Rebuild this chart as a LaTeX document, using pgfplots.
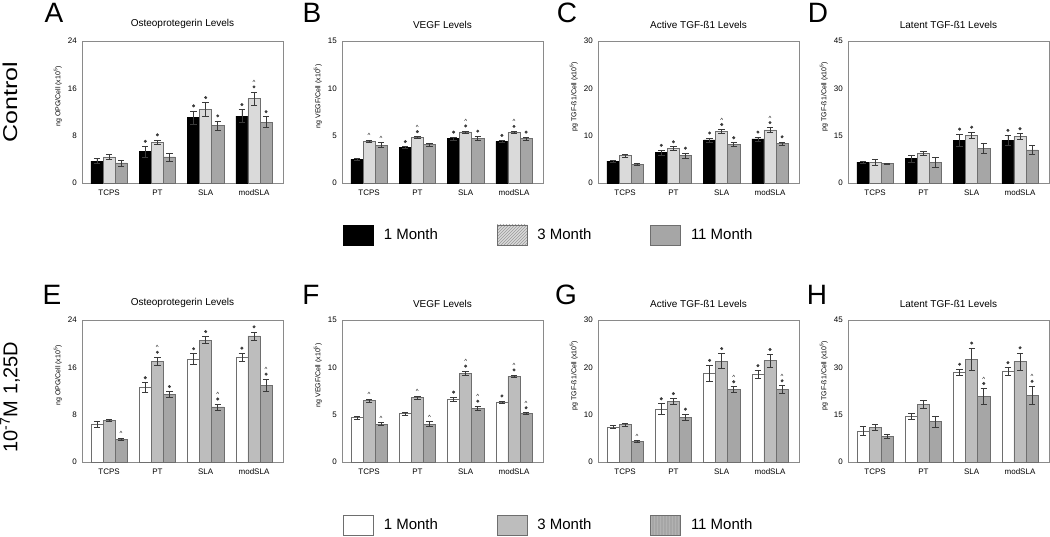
\documentclass[border=0pt]{standalone}
\usepackage{pgfplots}
\pgfplotsset{compat=1.18}
\usepackage{pgfplotstable}
\usepackage{fontspec}
\setmainfont{Liberation Sans}
\usetikzlibrary{patterns}

\definecolor{axgray}{HTML}{8A8A8A}
\definecolor{errc}{HTML}{3A3A3A}
\definecolor{tlight}{HTML}{DADADA}
\definecolor{tgray}{HTML}{A6A6A6}
\definecolor{blight}{HTML}{BDBDBD}
\definecolor{bgray}{HTML}{A6A6A6}
\definecolor{edgec}{HTML}{6E6E6E}

% columns: x, 1 Month (a, ea), 3 Month (b, eb), 11 Month (c, ec)
\pgfplotstableread{
x a ea b eb c ec
0 3.7 0.4 4.4 0.4 3.4 0.5
1 5.3 0.9 6.9 0.4 4.4 0.7
2 11.1 1.1 12.4 1.2 9.7 0.8
3 11.3 1.1 14.3 1.1 10.3 0.9
}\tA
\pgfplotstableread{
x a ea b eb c ec
0 2.5 0.1 4.4 0.1 4.0 0.25
1 3.75 0.1 4.8 0.1 4.05 0.15
2 4.7 0.15 5.4 0.1 4.75 0.2
3 4.4 0.1 5.35 0.1 4.7 0.15
}\tB
\pgfplotstableread{
x a ea b eb c ec
0 4.6 0.15 5.8 0.3 3.9 0.2
1 6.4 0.5 7.3 0.35 5.8 0.5
2 9.1 0.4 10.9 0.4 8.1 0.4
3 9.3 0.4 11.2 0.5 8.3 0.4
}\tC
\pgfplotstableread{
x a ea b eb c ec
0 6.6 0.3 6.6 0.9 6.1 0.3
1 7.7 1.0 9.3 0.6 6.6 1.5
2 13.5 2.0 15.1 1.0 11.0 1.6
3 13.5 1.6 14.8 0.8 10.5 1.3
}\tD
\pgfplotstableread{
x a ea b eb c ec
0 6.3 0.5 7.0 0.2 3.8 0.2
1 12.6 0.8 17.0 0.7 11.4 0.5
2 17.4 0.9 20.6 0.6 9.3 0.5
3 17.7 0.7 21.3 0.7 13.0 1.0
}\tE
\pgfplotstableread{
x a ea b eb c ec
0 4.7 0.15 6.5 0.15 4.0 0.15
1 5.1 0.15 6.8 0.15 4.0 0.25
2 6.65 0.2 9.4 0.2 5.7 0.2
3 6.3 0.15 9.05 0.15 5.1 0.1
}\tF
\pgfplotstableread{
x a ea b eb c ec
0 7.4 0.3 7.9 0.3 4.35 0.2
1 11.2 1.1 12.8 0.6 9.5 0.6
2 18.7 1.7 21.3 1.6 15.3 0.6
3 18.5 0.8 21.4 1.3 15.3 0.8
}\tG
\pgfplotstableread{
x a ea b eb c ec
0 9.9 1.4 10.9 1.0 8.2 0.6
1 14.5 1.0 18.2 1.2 12.8 1.8
2 28.4 1.0 32.6 3.5 20.8 2.5
3 28.7 1.2 31.9 2.7 21.2 2.8
}\tH

\tikzset{letter/.style={font=\fontsize{28}{28}\selectfont, inner sep=0pt}}
\newcommand{\crt}{{\fontsize{6}{6}\selectfont\textasciicircum}}

\pgfplotsset{
  panel/.style={
    scale only axis, width=201pt, height=142pt,
    xmin=-0.56, xmax=3.60, ymin=0,
    xtick={0,1,2,3}, xticklabels={TCPS,PT,SLA,modSLA},
    axis line style={draw=axgray, line width=0.7pt},
    major tick length=0pt, tick style={draw=none},
    ticklabel style={font=\fontsize{8}{9}\selectfont},
    /pgf/number format/assume math mode=true,
    xticklabel style={inner sep=0pt, anchor=north, yshift=-7pt},
    yticklabel style={inner sep=0pt, anchor=east, xshift=-5pt},
    title style={font=\fontsize{10}{12}\selectfont, inner sep=0pt, yshift=6pt},
    ylabel style={font=\fontsize{7}{8}\selectfont, at={(axis description cs:-0.12,0.61)}, anchor=center, inner sep=0pt},
    clip=false,
  },
  barbase/.style={ybar, bar width=0.25, bar shift=0pt, line width=0.5pt, forget plot,
    error bars/y dir=both, error bars/y explicit,
    error bars/error bar style={draw=errc, line width=0.6pt},
    error bars/error mark options={rotate=90, draw=errc, mark size=3.2pt, line width=0.6pt}},
  t1/.style={barbase, fill=black, draw=black},
  t2/.style={barbase, fill=tlight, draw=edgec},
  t3/.style={barbase, fill=tgray, draw=edgec},
  b1/.style={barbase, fill=white, draw=edgec},
  b2/.style={barbase, fill=blight, draw=edgec},
  b3/.style={barbase, fill=bgray, draw=edgec},
  stars/.style={only marks, forget plot, mark=*, mark size=1.3pt, color=errc, mark options={yshift=5pt}},
  caretS/.style={only marks, forget plot, mark=text, text mark={\crt}, color=errc, mark options={yshift=9.5pt}},
  caretA/.style={only marks, forget plot, mark=text, text mark={\crt}, color=errc, mark options={yshift=4.5pt}},
  leg/.style={
    legend style={draw=none, fill=none, inner sep=0pt, legend columns=3,
      font=\fontsize{15}{16}\selectfont, column sep=0pt, cells={anchor=west},
      nodes={inner xsep=0pt}},
    legend image code/.code={\draw[##1, line width=0.6pt] (0pt,-10pt) rectangle (30pt,10pt);},
  },
}

\newcommand{\threebars}[4]{%
  \addplot[#2] table[x expr=\thisrow{x}-0.25, y=a, y error=ea] {#1};
  \addplot[#3] table[x expr=\thisrow{x}, y=b, y error=eb] {#1};
  \addplot[#4] table[x expr=\thisrow{x}+0.25, y=c, y error=ec] {#1};
}

\begin{document}
\begin{tikzpicture}
\useasboundingbox (0,0) rectangle (1050pt,536pt);

% ---------------- Row 1 ----------------
\begin{axis}[panel, at={(82pt,353pt)}, anchor=south west, ymax=24, ytick={0,8,16,24},
  title={Osteoprotegerin Levels}, ylabel={ng OPG/Cell (x10\textsuperscript{5})}]
  \threebars{\tA}{t1}{t2}{t3}
  \addplot[stars] coordinates {(0.75,6.2) (1,7.3) (1.75,12.2) (2,13.6) (2.25,10.5) (2.75,12.4) (3,15.4) (3.25,11.2)};
  \addplot[caretS] coordinates {(3,15.4)};
  \node[letter] at (axis description cs:-0.139,1.197) {A};
  \node[rotate=90, font=\fontsize{20}{20}\selectfont] at (axis description cs:-0.358,0.570) {\scalebox{1.25}[1]{Control}};
\end{axis}

\begin{axis}[panel, leg, at={(342pt,353pt)}, anchor=south west, ymax=15, ytick={0,5,10,15},
  title={VEGF Levels}, ylabel={ng VEGF/Cell (x10\textsuperscript{5})},
  legend style={at={(axis description cs:0.005,-0.366)}, anchor=west}]
  \threebars{\tB}{t1}{t2}{t3}
  \addplot[stars] coordinates {(0.75,3.85) (1,4.9) (1.75,4.85) (2,5.5) (2.25,4.95) (2.75,4.5) (3,5.45) (3.25,4.85)};
  \addplot[caretS] coordinates {(1,4.9) (2,5.5) (3,5.45)};
  \addplot[caretA] coordinates {(0,4.5) (0.25,4.25)};
  \node[letter] at (axis description cs:-0.149,1.197) {B};
  \addlegendimage{fill=black, draw=black}
  \addlegendentry{\makebox[123pt][l]{\hspace{10pt}1 Month}}
  \addlegendimage{fill=tlight, draw=edgec, postaction={pattern=north east lines, pattern color=gray!80}}
  \addlegendentry{\makebox[123pt][l]{\hspace{10pt}3 Month}}
  \addlegendimage{fill=tgray, draw=edgec}
  \addlegendentry{\makebox[80pt][l]{\hspace{10pt}11 Month}}
\end{axis}

\begin{axis}[panel, at={(598pt,353pt)}, anchor=south west, ymax=30, ytick={0,10,20,30},
  title={Active TGF-ß1 Levels}, ylabel={pg TGF-ß1/Cell (x10\textsuperscript{5})}]
  \threebars{\tC}{t1}{t2}{t3}
  \addplot[stars] coordinates {(0.75,6.9) (1,7.65) (1.25,6.3) (1.75,9.5) (2,11.3) (2.25,8.5) (2.75,9.7) (3,11.7) (3.25,8.7)};
  \addplot[caretS] coordinates {(2,11.3) (3,11.7)};
  \node[letter] at (axis description cs:-0.154,1.197) {C};
\end{axis}

\begin{axis}[panel, at={(848pt,353pt)}, anchor=south west, ymax=45, ytick={0,15,30,45},
  title={Latent TGF-ß1 Levels}, ylabel={pg TGF-ß1/Cell (x10\textsuperscript{5})}]
  \threebars{\tD}{t1}{t2}{t3}
  \addplot[stars] coordinates {(1.75,15.5) (2,16.1) (2.75,15.1) (3,15.6)};
  \node[letter] at (axis description cs:-0.149,1.197) {D};
\end{axis}

% ---------------- Row 2 ----------------
\begin{axis}[panel, at={(82pt,74pt)}, anchor=south west, ymax=24, ytick={0,8,16,24},
  title={Osteoprotegerin Levels}, ylabel={ng OPG/Cell (x10\textsuperscript{5})}]
  \threebars{\tE}{b1}{b2}{b3}
  \addplot[stars] coordinates {(0.75,13.4) (1,17.7) (1.25,11.9) (1.75,18.3) (2,21.2) (2.25,9.8) (2.75,18.4) (3,22.0) (3.25,14.0)};
  \addplot[caretS] coordinates {(1,17.7) (2.25,9.8) (3.25,14.0)};
  \addplot[caretA] coordinates {(0.25,4.0)};
  \node[letter] at (axis description cs:-0.149,1.176) {E};
  \node[rotate=90, font=\fontsize{20}{20}\selectfont] at (axis description cs:-0.358,0.458) {10\textsuperscript{-7}M 1,25D};
\end{axis}

\begin{axis}[panel, leg, at={(342pt,74pt)}, anchor=south west, ymax=15, ytick={0,5,10,15},
  title={VEGF Levels}, ylabel={ng VEGF/Cell (x10\textsuperscript{5})},
  legend style={at={(axis description cs:0.005,-0.444)}, anchor=west}]
  \threebars{\tF}{b1}{b2}{b3}
  \addplot[stars] coordinates {(1.75,6.85) (2,9.6) (2.25,5.9) (2.75,6.45) (3,9.2) (3.25,5.2)};
  \addplot[caretS] coordinates {(2,9.6) (2.25,5.9) (3,9.2) (3.25,5.2)};
  \addplot[caretA] coordinates {(0,6.65) (0.25,4.15) (1,6.95) (1.25,4.25)};
  \node[letter] at (axis description cs:-0.154,1.176) {F};
  \addlegendimage{fill=white, draw=edgec}
  \addlegendentry{\makebox[123pt][l]{\hspace{10pt}1 Month}}
  \addlegendimage{fill=blight, draw=edgec}
  \addlegendentry{\makebox[123pt][l]{\hspace{10pt}3 Month}}
  \addlegendimage{fill=bgray, draw=edgec, postaction={pattern=vertical lines, pattern color=gray!60}}
  \addlegendentry{\makebox[80pt][l]{\hspace{10pt}11 Month}}
\end{axis}

\begin{axis}[panel, at={(598pt,74pt)}, anchor=south west, ymax=30, ytick={0,10,20,30},
  title={Active TGF-ß1 Levels}, ylabel={pg TGF-ß1/Cell (x10\textsuperscript{5})}]
  \threebars{\tG}{b1}{b2}{b3}
  \addplot[stars] coordinates {(0.75,12.3) (1,13.4) (1.25,10.1) (1.75,20.4) (2,22.9) (2.25,15.9) (2.75,19.3) (3,22.7) (3.25,16.1)};
  \addplot[caretS] coordinates {(2.25,15.9) (3.25,16.1)};
  \addplot[caretA] coordinates {(0.25,4.55)};
  \node[letter] at (axis description cs:-0.159,1.176) {G};
\end{axis}

\begin{axis}[panel, at={(848pt,74pt)}, anchor=south west, ymax=45, ytick={0,15,30,45},
  title={Latent TGF-ß1 Levels}, ylabel={pg TGF-ß1/Cell (x10\textsuperscript{5})}]
  \threebars{\tH}{b1}{b2}{b3}
  \addplot[stars] coordinates {(1.75,29.4) (2,36.1) (2.25,23.3) (2.75,29.9) (3,34.6) (3.25,24.0)};
  \addplot[caretS] coordinates {(2.25,23.3) (3.25,24.0)};
  \node[letter] at (axis description cs:-0.154,1.176) {H};
\end{axis}
\end{tikzpicture}
\end{document}
